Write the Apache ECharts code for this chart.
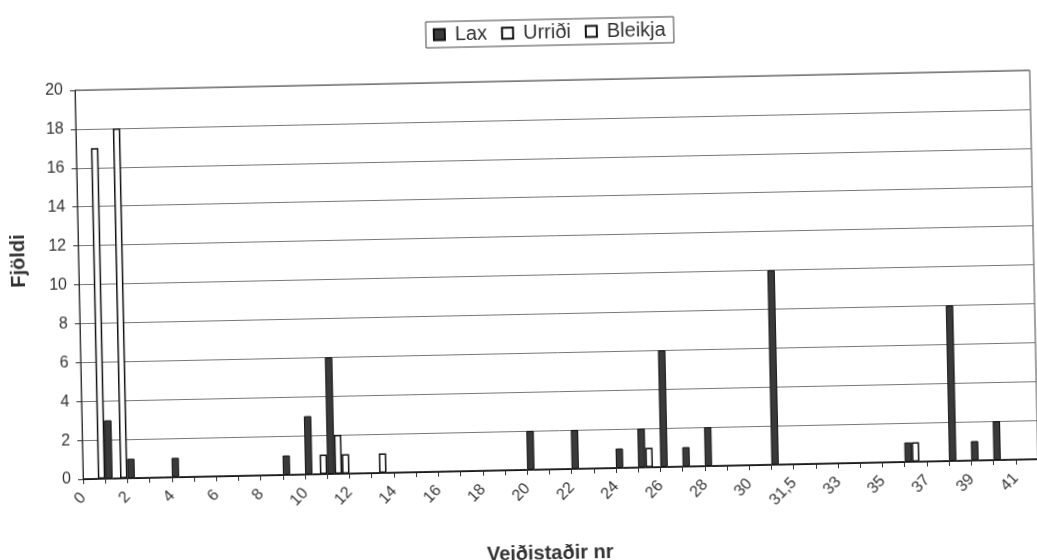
<!DOCTYPE html>
<html>
<head>
<meta charset="utf-8">
<script src="https://cdn.jsdelivr.net/npm/echarts@6/dist/echarts.min.js"></script>
<style>
html,body{margin:0;padding:0;background:#fff;overflow:hidden;}
#chart{width:1037px;height:560px;transform:rotate(-1.2deg);transform-origin:50% 50%;}
</style>
</head>
<body>
<div id="chart"></div>
<script>
// Category labels (stations)
var categories = ["0","1","2","3","4","5","6","7","8","9","10","11","12","13","14","15","16","17","18","19","20","21","22","23","24","25","26","27","28","29","30","31","31,5","32","33","34","35","36","37","38","39","40","41"];
// Series values
var lax     = [0,3,1,0,1,0,0,0,0,1,3,6,0,0,0,0,0,0,0,0,2,0,2,0,1,2,6,1,2,0,0,10,0,0,0,0,0,1,0,8,1,2,0];
var urridi  = [0,0,0,0,0,0,0,0,0,0,0,2,0,1,0,0,0,0,0,0,0,0,0,0,0,1,0,0,0,0,0,0,0,0,0,0,0,1,0,0,0,0,0];
var bleikja = [17,18,0,0,0,0,0,0,0,0,1,1,0,0,0,0,0,0,0,0,0,0,0,0,0,0,0,0,0,0,0,0,0,0,0,0,0,0,0,0,0,0,0];
var seriesNames = ["Lax","Urriði","Bleikja"];
var yMax = 20, yStep = 2;

var FONT = '"Liberation Sans", Arial, sans-serif';
var TXT = '#333';
var chart = echarts.init(document.getElementById('chart'), null, {renderer:'canvas'});
chart.setOption({
  animation:false,
  backgroundColor:'#fff',
  textStyle:{fontFamily:FONT},
  legend:{
    data:seriesNames,
    left:431, top:20,
    orient:'horizontal',
    itemWidth:11, itemHeight:11, itemGap:14,
    icon:'rect',
    borderColor:'#444', borderWidth:1,
    padding:[3,8,3,7],
    textStyle:{fontFamily:FONT,fontSize:20,color:TXT,padding:[0,0,0,5]}
  },
  grid:{left:79,right:3,top:81,bottom:90,show:true,borderColor:'#444',borderWidth:1,
        containLabel:false,outerBoundsMode:'none'},
  xAxis:[
    {type:'category',data:categories,boundaryGap:true,
     axisLine:{show:false},axisTick:{show:false},axisLabel:{show:false},splitLine:{show:false}},
    {type:'value',min:0,max:categories.length,interval:1,position:'bottom',
     axisLine:{show:true,onZero:false,lineStyle:{color:'#333',width:1}},
     axisTick:{show:true,length:5,lineStyle:{color:'#333'}},
     splitLine:{show:false},
     axisLabel:{rotate:45,margin:16,fontSize:16,color:TXT,fontFamily:FONT,
       formatter:function(v){var i=Math.round(v);return (i%2===0&&i<categories.length)?categories[i]:'';}},
     name:'Veiðistaðir nr',nameLocation:'middle',nameGap:74,
     nameTextStyle:{fontFamily:FONT,fontSize:20,fontWeight:'bold',color:TXT,padding:[0,24,0,0]}}
  ],
  yAxis:{type:'value',min:0,max:yMax,interval:yStep,
    axisLine:{show:true,lineStyle:{color:'#333',width:1}},
    axisTick:{show:true,length:5,lineStyle:{color:'#333'}},
    axisLabel:{fontSize:16,color:TXT,margin:12,fontFamily:FONT},
    splitLine:{show:true,lineStyle:{color:'#777',width:1}},
    name:'Fjöldi',nameLocation:'middle',nameGap:50,nameRotate:90,
    nameTextStyle:{fontFamily:FONT,fontSize:20,fontWeight:'bold',color:TXT,padding:[0,0,0,50]}},
  series:[
    {name:seriesNames[0],type:'bar',xAxisIndex:0,data:lax,barGap:'0%',barCategoryGap:'0%',
     itemStyle:{color:'#3a3a3a',borderColor:'#111',borderWidth:1}},
    {name:seriesNames[1],type:'bar',xAxisIndex:0,data:urridi,barGap:'0%',barCategoryGap:'0%',
     itemStyle:{color:'#fff',borderColor:'#111',borderWidth:1.5}},
    {name:seriesNames[2],type:'bar',xAxisIndex:0,data:bleikja,barGap:'0%',barCategoryGap:'0%',
     itemStyle:{color:'#fff',borderColor:'#111',borderWidth:1.5}}
  ]
});
</script>
</body>
</html>
